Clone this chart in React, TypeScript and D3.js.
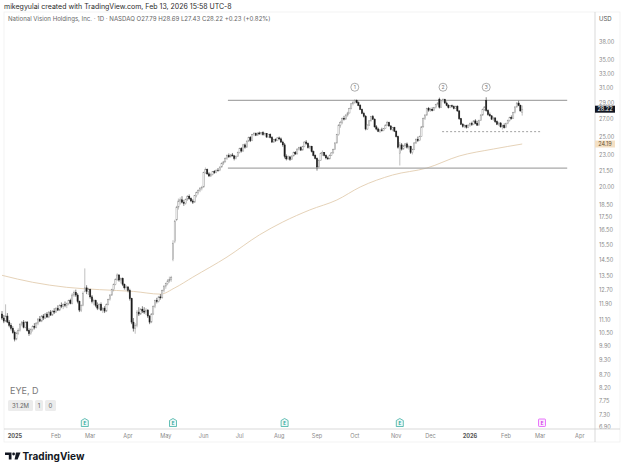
import React from 'react';
import * as d3 from 'd3';

type Bar = [number, number, number, number]; // open, high, low, close

// daily candles, grouped by month
const dec24: Bar[] = [
  [11.40, 11.55, 11.10, 11.20], [11.20, 11.35, 10.95, 11.05], [11.05, 11.90, 11.00, 11.30], [11.30, 11.45, 10.95, 11.00],
  [11.00, 11.10, 10.75, 10.85], [10.85, 10.95, 10.60, 10.70], [10.70, 10.80, 10.45, 10.50], [10.50, 10.60, 10.10, 10.20],
  [10.20, 10.55, 10.15, 10.45], [10.45, 10.70, 10.40, 10.60],
];
const jan25: Bar[] = [
  [10.60, 10.95, 10.55, 10.90], [10.90, 11.05, 10.80, 11.00], [11.00, 11.10, 10.70, 10.75], [10.75, 11.05, 10.70, 11.00],
  [11.00, 11.05, 10.55, 10.60], [10.60, 10.70, 10.35, 10.45], [10.45, 10.70, 10.40, 10.65], [10.65, 10.85, 10.55, 10.80],
  [10.80, 10.95, 10.65, 10.75], [10.75, 11.00, 10.70, 10.95], [10.95, 11.20, 10.85, 11.15], [11.15, 11.30, 11.00, 11.05],
  [11.05, 11.35, 11.00, 11.30], [11.30, 11.40, 11.10, 11.20], [11.20, 11.45, 11.15, 11.40], [11.40, 11.50, 11.20, 11.25],
  [11.25, 11.55, 11.20, 11.50], [11.50, 11.60, 11.30, 11.35], [11.35, 11.60, 11.30, 11.55], [11.55, 11.70, 11.40, 11.50],
];
const feb25: Bar[] = [
  [11.50, 11.75, 11.45, 11.70], [11.70, 11.85, 11.55, 11.60], [11.60, 11.90, 11.55, 11.85], [11.85, 12.00, 11.70, 11.80],
  [11.80, 11.95, 11.65, 11.90], [11.90, 12.05, 11.75, 11.85], [11.85, 12.00, 11.70, 11.95], [11.95, 12.15, 11.85, 12.10],
  [12.10, 12.20, 11.90, 11.95], [11.95, 12.50, 11.90, 12.40], [12.40, 12.65, 12.30, 12.55], [12.55, 12.70, 12.30, 12.40],
  [12.40, 12.50, 11.95, 12.05], [12.05, 12.10, 11.50, 11.60], [11.60, 11.90, 11.50, 11.85], [11.85, 12.60, 11.80, 12.50],
  [12.60, 13.95, 12.55, 12.80], [12.80, 12.95, 12.45, 12.60], [12.60, 12.80, 12.40, 12.70],
];
const mar25: Bar[] = [
  [12.70, 12.75, 12.20, 12.30], [12.30, 12.40, 11.95, 12.05], [12.05, 12.20, 11.85, 12.10], [12.10, 12.15, 11.75, 11.85],
  [11.85, 12.00, 11.60, 11.70], [11.70, 11.95, 11.60, 11.90], [11.90, 12.00, 11.55, 11.60], [11.60, 11.75, 11.45, 11.70],
  [11.70, 11.80, 11.45, 11.55], [11.55, 11.95, 11.50, 11.90], [11.90, 12.20, 11.85, 12.15], [12.15, 12.45, 12.10, 12.40],
  [12.40, 12.75, 12.35, 12.70], [12.70, 13.05, 12.60, 13.00], [13.00, 13.35, 12.95, 13.30], [13.30, 13.65, 13.20, 13.55],
  [13.55, 13.60, 13.15, 13.25], [13.25, 13.40, 13.05, 13.35], [13.35, 13.40, 12.90, 13.00], [13.00, 13.05, 12.70, 12.80],
  [12.80, 12.95, 12.65, 12.85],
];
const apr25: Bar[] = [
  [12.85, 12.90, 12.55, 12.65], [12.65, 12.75, 12.10, 12.20], [12.20, 12.25, 10.90, 11.00], [11.00, 11.20, 10.55, 10.70],
  [10.70, 10.95, 10.45, 10.85], [10.85, 11.60, 10.75, 11.50], [11.50, 11.75, 11.30, 11.40], [11.40, 11.70, 11.35, 11.65],
  [11.65, 11.80, 11.45, 11.55], [11.55, 11.75, 11.40, 11.50], [11.50, 11.70, 11.35, 11.60], [11.60, 11.65, 11.20, 11.30],
  [11.30, 11.35, 10.90, 11.00], [11.00, 11.45, 10.95, 11.40], [11.40, 11.85, 11.35, 11.80], [11.80, 12.15, 11.70, 12.10],
  [12.10, 12.25, 11.95, 12.05], [12.05, 12.35, 12.00, 12.30], [12.30, 12.45, 12.15, 12.25], [12.25, 12.70, 12.20, 12.65],
  [12.65, 12.95, 12.55, 12.90],
];
const may25: Bar[] = [
  [12.90, 13.10, 12.75, 13.05], [13.05, 13.30, 12.95, 13.20], [13.20, 13.45, 13.10, 13.30], [13.30, 13.50, 13.15, 13.40],
  [14.50, 15.80, 14.40, 15.60], [15.70, 17.30, 15.60, 17.20], [17.30, 18.40, 17.20, 18.30], [18.30, 19.00, 18.10, 18.80],
  [18.80, 19.10, 18.50, 18.90], [18.90, 19.20, 18.60, 18.70], [18.70, 18.90, 18.40, 18.60], [18.60, 19.00, 18.50, 18.95],
  [18.95, 19.30, 18.80, 19.20], [19.20, 19.35, 18.90, 19.00], [19.00, 19.10, 18.70, 18.80], [18.80, 18.95, 18.55, 18.70],
  [18.70, 19.30, 18.65, 19.25], [19.25, 19.60, 19.10, 19.50], [19.50, 19.80, 19.35, 19.70], [19.70, 20.00, 19.55, 19.90],
  [19.90, 20.10, 19.70, 19.95],
];
const jun25: Bar[] = [
  [20.00, 21.40, 19.95, 21.30], [21.30, 21.80, 21.20, 21.60], [21.60, 21.70, 21.10, 21.20], [21.20, 21.35, 20.90, 21.00],
  [21.00, 21.30, 20.90, 21.15], [21.15, 21.45, 21.05, 21.40], [21.40, 21.55, 21.20, 21.30], [21.30, 21.60, 21.25, 21.55],
  [21.55, 21.75, 21.40, 21.50], [21.50, 21.90, 21.45, 21.85], [21.85, 22.30, 21.80, 22.20], [22.20, 22.45, 22.05, 22.35],
  [22.35, 22.80, 22.30, 22.70], [22.70, 23.10, 22.55, 23.00], [23.00, 23.20, 22.75, 22.85], [22.85, 23.15, 22.80, 23.05],
  [23.05, 23.25, 22.90, 22.95], [22.95, 23.05, 22.50, 22.70], [22.70, 23.00, 22.60, 22.90], [22.90, 23.40, 22.85, 23.30],
];
const jul25: Bar[] = [
  [23.30, 23.80, 23.20, 23.70], [23.70, 23.85, 23.30, 23.45], [23.45, 24.20, 23.40, 24.10], [24.10, 24.25, 23.70, 23.85],
  [23.85, 24.60, 23.80, 24.50], [24.50, 25.00, 24.40, 24.90], [24.90, 25.05, 24.40, 24.55], [24.55, 25.30, 24.50, 25.20],
  [25.20, 25.50, 25.05, 25.35], [25.35, 25.45, 25.05, 25.15], [25.15, 25.45, 25.10, 25.40], [25.40, 25.55, 25.20, 25.30],
  [25.30, 25.50, 25.15, 25.45], [25.45, 25.60, 25.10, 25.20], [25.20, 25.45, 25.10, 25.35], [25.35, 25.40, 24.85, 24.95],
  [24.95, 25.30, 24.90, 25.25], [25.25, 25.35, 24.80, 24.90], [24.90, 25.05, 24.30, 24.40], [24.40, 24.75, 24.30, 24.65],
  [24.65, 24.80, 24.40, 24.55], [24.55, 24.95, 24.50, 24.85],
];
const aug25: Bar[] = [
  [24.85, 25.00, 24.60, 24.75], [24.75, 24.90, 24.30, 24.40], [24.40, 24.55, 23.90, 24.10], [24.10, 24.30, 22.70, 22.90],
  [22.90, 23.10, 22.50, 22.65], [22.65, 23.00, 22.55, 22.85], [22.85, 22.95, 22.45, 22.60], [22.60, 23.00, 22.55, 22.95],
  [22.95, 23.40, 22.90, 23.30], [23.30, 23.45, 23.05, 23.15], [23.15, 23.75, 23.10, 23.65], [23.65, 23.90, 23.50, 23.80],
  [23.80, 23.95, 23.45, 23.55], [23.55, 24.00, 23.50, 23.90], [23.90, 24.50, 23.85, 24.40], [24.40, 24.60, 24.10, 24.25],
  [24.25, 24.35, 23.70, 23.80], [23.80, 24.05, 23.65, 23.95], [23.95, 24.00, 23.30, 23.40], [23.40, 23.50, 22.90, 23.00],
  [23.00, 23.10, 22.60, 22.70],
];
const sep25: Bar[] = [
  [22.70, 22.80, 21.50, 21.85], [21.85, 22.60, 21.80, 22.50], [22.50, 23.30, 22.45, 23.20], [23.20, 23.50, 22.95, 23.30],
  [23.30, 23.35, 22.90, 23.00], [23.00, 23.10, 22.60, 22.75], [22.75, 22.90, 22.55, 22.65], [22.65, 23.10, 22.60, 23.00],
  [23.00, 23.35, 22.95, 23.25], [23.25, 23.70, 23.20, 23.60], [23.60, 24.40, 23.55, 24.30], [24.30, 25.30, 24.25, 25.20],
  [25.20, 26.40, 25.10, 26.30], [26.30, 26.80, 26.00, 26.60], [26.60, 27.20, 26.40, 27.10], [27.10, 27.40, 26.85, 27.00],
  [27.00, 27.60, 26.95, 27.50], [27.50, 27.90, 27.30, 27.75], [27.75, 28.40, 27.70, 28.30], [28.30, 29.00, 28.20, 28.90],
  [28.90, 29.30, 28.70, 29.10],
];
const oct25: Bar[] = [
  [29.10, 29.50, 28.90, 29.30], [29.30, 29.45, 28.95, 29.05], [29.05, 29.20, 28.60, 28.70], [28.70, 28.85, 28.10, 28.20],
  [28.20, 28.30, 27.60, 27.70], [27.70, 27.90, 27.20, 27.35], [27.35, 27.50, 25.70, 25.85], [25.85, 26.40, 25.75, 26.30],
  [26.30, 26.90, 26.20, 26.80], [26.80, 27.40, 26.70, 27.30], [27.30, 27.50, 26.90, 27.00], [27.00, 27.10, 26.00, 26.10],
  [26.10, 26.30, 25.70, 25.85], [25.85, 26.00, 25.50, 25.60], [25.60, 25.85, 25.40, 25.75], [25.75, 26.00, 25.55, 25.65],
  [25.65, 25.95, 25.60, 25.90], [25.90, 26.40, 25.85, 26.30], [26.30, 26.80, 26.20, 26.60], [26.60, 26.70, 26.10, 26.20],
  [26.20, 26.30, 25.70, 25.80], [25.80, 26.10, 25.60, 26.00], [26.00, 26.10, 25.50, 25.60],
];
const nov25: Bar[] = [
  [25.60, 25.70, 24.90, 25.00], [25.00, 25.10, 23.70, 23.85], [23.20, 24.40, 22.00, 24.10], [24.10, 24.30, 23.50, 23.65],
  [23.65, 24.10, 23.60, 24.00], [24.00, 24.30, 23.80, 24.20], [24.20, 24.35, 23.70, 23.85], [23.85, 24.10, 23.60, 23.95],
  [23.95, 24.00, 23.15, 23.30], [23.30, 23.70, 23.10, 23.60], [23.60, 24.40, 23.55, 24.30], [24.30, 24.80, 24.20, 24.70],
  [24.70, 25.00, 24.40, 24.55], [24.55, 25.10, 24.50, 25.00], [25.00, 26.20, 24.95, 26.10], [26.10, 27.20, 26.00, 27.10],
  [27.10, 27.60, 26.90, 27.50], [27.50, 28.40, 27.40, 28.30], [28.30, 28.50, 27.90, 28.10],
];
const dec25: Bar[] = [
  [28.10, 28.40, 27.90, 28.20], [28.20, 28.45, 27.95, 28.05], [28.05, 28.50, 28.00, 28.40], [28.40, 28.90, 28.30, 28.80],
  [28.80, 29.10, 28.70, 29.00], [29.50, 29.70, 28.30, 28.45], [28.45, 29.40, 28.40, 29.30], [29.30, 29.60, 29.10, 29.45],
  [29.45, 29.55, 28.90, 29.00], [29.00, 29.20, 28.60, 28.70], [28.70, 28.85, 28.30, 28.40], [28.40, 28.75, 28.35, 28.65],
  [28.65, 28.80, 28.40, 28.55], [28.55, 28.70, 28.20, 28.30], [28.30, 28.65, 28.25, 28.60], [28.60, 28.70, 27.90, 28.00],
  [28.00, 28.10, 26.90, 27.05], [27.05, 27.15, 26.30, 26.40], [26.40, 26.55, 26.00, 26.15], [26.15, 26.40, 25.95, 26.25],
  [26.25, 26.35, 25.90, 26.05], [26.05, 26.40, 25.95, 26.30],
];
const jan26: Bar[] = [
  [26.30, 26.60, 26.10, 26.50], [26.50, 26.70, 26.20, 26.35], [26.35, 26.90, 26.30, 26.80], [26.80, 27.00, 26.40, 26.50],
  [26.50, 26.80, 26.20, 26.30], [26.30, 26.95, 26.25, 26.85], [26.85, 27.60, 26.80, 27.50], [27.50, 28.30, 27.40, 28.20],
  [28.20, 28.60, 28.00, 28.50], [29.30, 29.75, 27.90, 28.05], [28.05, 28.20, 27.40, 27.55], [27.55, 27.80, 27.30, 27.40],
  [27.40, 27.50, 26.90, 27.00], [27.00, 27.30, 26.80, 27.15], [27.15, 27.20, 26.55, 26.70], [26.70, 26.85, 26.30, 26.40],
  [26.40, 26.70, 26.20, 26.55], [26.55, 26.65, 26.00, 26.10], [26.10, 26.35, 25.80, 26.25], [26.25, 26.50, 25.90, 26.00],
];
const feb26: Bar[] = [
  [26.00, 26.60, 25.95, 26.50], [26.50, 26.95, 26.40, 26.85], [26.85, 27.30, 26.70, 27.20], [27.20, 27.45, 26.95, 27.10],
  [27.10, 27.90, 27.05, 27.80], [27.80, 28.60, 27.70, 28.50], [28.50, 29.10, 28.40, 29.00], [29.00, 29.30, 28.60, 28.70],
  [28.70, 28.80, 27.95, 27.99], [27.79, 28.69, 27.43, 28.22],
];

// moving average, sampled along the line (bar index, value)
const maIndex = [0, 17, 36, 54, 73, 88, 96, 106, 125, 143, 156, 171, 186, 199, 217, 236, 254, 273, 289];
const maValue = [13.53, 13.12, 12.83, 12.7, 12.6, 12.45, 12.8, 13.42, 14.67, 16.18, 17.13, 18.07, 18.88, 20.0, 21.09, 21.75, 22.94, 23.66, 24.19];

const priceTicks = [38, 35, 33, 31, 29, 27, 25, 23, 21.5, 20, 18.5, 17.5, 16.5, 15.5, 14.5, 13.5, 12.7, 11.9, 11.1, 10.5, 9.9, 9.3, 8.7, 8.2, 7.75, 7.3, 6.9];

const monthDates = ['2025-01-02', '2025-02-03', '2025-03-03', '2025-04-01', '2025-05-01', '2025-06-02', '2025-07-01', '2025-08-01',
  '2025-09-02', '2025-10-01', '2025-11-03', '2025-12-01', '2026-01-02', '2026-02-02', '2026-03-02', '2026-04-01'];
const monthLabels = ['2025', 'Feb', 'Mar', 'Apr', 'May', 'Jun', 'Jul', 'Aug', 'Sep', 'Oct', 'Nov', 'Dec', '2026', 'Feb', 'Mar', 'Apr'];

const earningsDates = ['2025-02-26', '2025-05-07', '2025-08-06', '2025-11-05'];
const nextEarnings = '2026-03-03';

const holidays = ['2024-12-25', '2025-01-01', '2025-01-09', '2025-01-20', '2025-02-17', '2025-04-18', '2025-05-26', '2025-06-19',
  '2025-07-04', '2025-09-01', '2025-11-27', '2025-12-25', '2026-01-01', '2026-01-19', '2026-02-16', '2026-04-03'];

// drawn levels
const resistance = 29.35;
const support = 21.75;
const neckline = 25.55;
const peakLabels = ['1', '2', '3'];
const peakIndex = [196, 245, 269];

const lastPrice = 28.22;
const maLast = 24.19;

const bars: Bar[] = [...dec24, ...jan25, ...feb25, ...mar25, ...apr25, ...may25, ...jun25, ...jul25, ...aug25, ...sep25,
  ...oct25, ...nov25, ...dec25, ...jan26, ...feb26];

// trading calendar so dates map onto bar slots
const tradingDays: string[] = (() => {
  const out: string[] = [];
  const d = new Date(Date.UTC(2024, 11, 17));
  const end = new Date(Date.UTC(2026, 3, 30));
  while (d <= end) {
    const s = d.toISOString().slice(0, 10);
    const wd = d.getUTCDay();
    if (wd !== 0 && wd !== 6 && !holidays.includes(s)) out.push(s);
    d.setUTCDate(d.getUTCDate() + 1);
  }
  return out;
})();
const slot = (s: string) => tradingDays.indexOf(s);

const W = 624;
const H = 469;
const FONT = 'Inter, Roboto, "Noto Sans", sans-serif';

const App: React.FC = () => {
  const x = d3.scaleLinear().domain([0, 329]).range([2, 594.2]);
  const y = d3.scaleLog().domain([20, 38]).range([187, 187 - 226 * Math.log(38 / 20)]);

  const maLine = d3.line<number>()
    .x((_, i) => x(maIndex[i]))
    .y(v => y(v))
    .curve(d3.curveMonotoneX)(maValue) || '';

  const bw = 1.25;

  return (
    <svg width={W} height={H} style={{ position: 'absolute', left: 0, top: 0, background: '#fff' }} fontFamily={FONT}>
      <text x={4} y={9} fontSize={7} fill="#2a2a2a">mikegyulai created with TradingView.com, Feb 13, 2026 15:58 UTC-8</text>
      <rect x={4} y={12} width={616} height={430} fill="none" stroke="#efefef" strokeWidth={0.8} />
      <text x={8} y={21} fontSize={6.1} fill="#666">
        National Vision Holdings, Inc. · 1D · NASDAQ  O27.79  H28.69  L27.43  C28.22  +0.23 (+0.82%)
      </text>
      <text x={599} y={21} fontSize={6} fill="#555">USD</text>

      {/* price axis */}
      <line x1={595} x2={595} y1={12} y2={442} stroke="#cfcfcf" strokeWidth={0.8} />
      {priceTicks.map(t => (
        <text key={t} x={599} y={y(t)} dy="0.35em" fontSize={5.6} fill="#8a8a8a">{t.toFixed(2)}</text>
      ))}

      {/* time axis */}
      <line x1={4} x2={620} y1={429} y2={429} stroke="#cfcfcf" strokeWidth={0.8} />
      {monthDates.map((m, i) => {
        const bold = monthLabels[i].length === 4;
        return (
          <text key={m} x={x(slot(m)) - (i === 0 ? 5 : 0)} y={438} textAnchor="middle" fontSize={5.6}
            fill={bold ? '#555' : '#8a8a8a'} fontWeight={bold ? 700 : 400}>{monthLabels[i]}</text>
        );
      })}

      {/* earnings markers */}
      {earningsDates.map(e => {
        const cx = x(slot(e));
        return (
          <g key={e}>
            <path d={`M${cx - 3.5},420.5 L${cx},418.5 L${cx + 3.5},420.5 V426.5 H${cx - 3.5} Z`} fill="#eef8f6" stroke="#26a69a" strokeWidth={0.7} />
            <text x={cx} y={425.3} textAnchor="middle" fontSize={4.5} fill="#26a69a" fontWeight={700}>E</text>
          </g>
        );
      })}
      <g>
        <rect x={x(slot(nextEarnings)) - 3.5} y={419} width={7} height={7.5} rx={0.8} fill="#fbeafd" stroke="#e040fb" strokeWidth={0.7} />
        <text x={x(slot(nextEarnings))} y={425} textAnchor="middle" fontSize={4.5} fill="#d030e8" fontWeight={700}>E</text>
      </g>

      {/* moving average */}
      <path d={maLine} fill="none" stroke="#e2cdb0" strokeWidth={0.9} />

      {/* levels */}
      <line x1={x(125.5)} x2={x(314)} y1={y(resistance)} y2={y(resistance)} stroke="#a8a8a8" strokeWidth={1.2} />
      <line x1={x(125.5)} x2={x(314)} y1={y(support)} y2={y(support)} stroke="#a8a8a8" strokeWidth={1.2} />
      <line x1={x(244.5)} x2={x(299)} y1={y(neckline)} y2={y(neckline)} stroke="#8a8a8a" strokeWidth={0.8} strokeDasharray="2,2" />
      {peakIndex.map((p, i) => (
        <g key={p}>
          <circle cx={x(p)} cy={y(31.1)} r={4} fill="#fff" stroke="#8a8a8a" strokeWidth={0.7} />
          <text x={x(p)} y={y(31.1)} dy="0.35em" textAnchor="middle" fontSize={5} fill="#777">{peakLabels[i]}</text>
        </g>
      ))}

      {/* candles */}
      {bars.map(([o, h, l, c], i) => {
        const up = c >= o;
        const cx = x(i);
        const top = y(Math.max(o, c));
        const bh = Math.max(Math.abs(y(o) - y(c)), 0.6);
        const col = up ? '#8c8c8c' : '#1c1c1c';
        return (
          <g key={i}>
            <line x1={cx} x2={cx} y1={y(h)} y2={y(l)} stroke={col} strokeWidth={0.55} />
            <rect x={cx - bw / 2} y={top} width={bw} height={bh} fill={up ? '#ffffff' : '#1c1c1c'} stroke={col} strokeWidth={0.45} />
          </g>
        );
      })}

      {/* price tags */}
      <rect x={595} y={y(lastPrice) - 3.5} width={20} height={7} fill="#131722" />
      <text x={605} y={y(lastPrice)} dy="0.35em" textAnchor="middle" fontSize={5.6} fill="#fff">{lastPrice.toFixed(2)}</text>
      <rect x={595} y={y(maLast) - 3.5} width={20} height={7} fill="#f4e0c4" />
      <text x={605} y={y(maLast)} dy="0.35em" textAnchor="middle" fontSize={5.6} fill="#6b5535">{maLast.toFixed(2)}</text>

      {/* legend */}
      <text x={10} y={394} fontSize={9} fill="#7a7a7a">EYE, D</text>
      <rect x={8} y={400} width={25} height={11} rx={1.5} fill="#ececec" />
      <text x={20.5} y={405.5} dy="0.35em" textAnchor="middle" fontSize={6} fill="#666">31.2M</text>
      <rect x={35} y={400} width={8} height={11} rx={1.5} fill="#ececec" />
      <text x={39} y={405.5} dy="0.35em" textAnchor="middle" fontSize={6} fill="#666">1</text>
      <rect x={45} y={400} width={11} height={11} rx={1.5} fill="#ececec" />
      <text x={50.5} y={405.5} dy="0.35em" textAnchor="middle" fontSize={6} fill="#666">0</text>

      {/* TradingView logo */}
      <path d="M5,452.5 H11.5 V459.5 H8.8 V455 H5 Z" fill="#131722" />
      <circle cx={13.6} cy={454} r={1.4} fill="#131722" />
      <path d="M16,452.5 H20.5 L17.6,459.5 H14.6 Z" fill="#131722" />
      <text x={22.5} y={459.5} fontSize={10} fontWeight={700} fill="#131722">TradingView</text>
    </svg>
  );
};

export default App;
